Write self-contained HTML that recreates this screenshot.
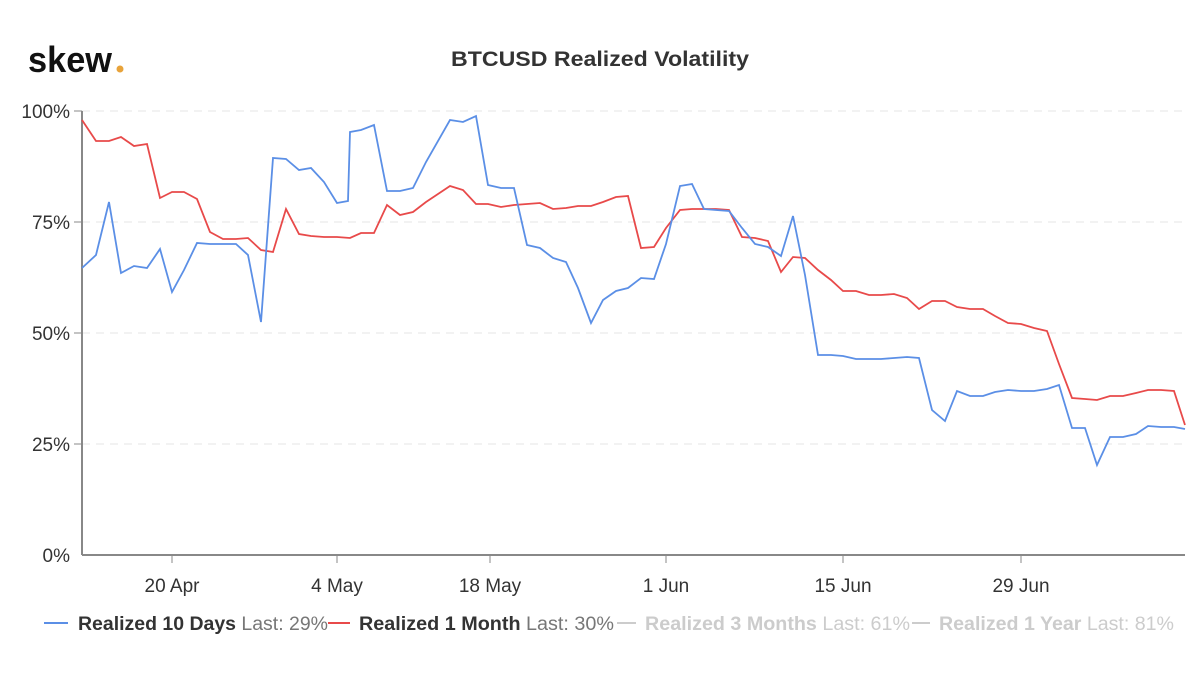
<!DOCTYPE html>
<html><head><meta charset="utf-8"><style>
body{margin:0;background:#fff;width:1200px;height:670px;overflow:hidden;font-family:"Liberation Sans",sans-serif}
</style></head><body>
<svg width="1200" height="670" xmlns="http://www.w3.org/2000/svg" font-family="Liberation Sans, sans-serif">
<text x="28" y="72" font-size="36" font-weight="bold" fill="#111" textLength="84" lengthAdjust="spacingAndGlyphs">skew</text>
<circle cx="120" cy="69" r="3.5" fill="#e8a33a"/>
<text x="600" y="66" text-anchor="middle" font-size="21" font-weight="bold" fill="#333" textLength="298" lengthAdjust="spacingAndGlyphs">BTCUSD Realized Volatility</text>
<g stroke="#e4e4e4" stroke-dasharray="8,6" stroke-width="1">
<line x1="82" y1="111" x2="1185" y2="111"/><line x1="82" y1="222" x2="1185" y2="222"/>
<line x1="82" y1="333" x2="1185" y2="333"/><line x1="82" y1="444" x2="1185" y2="444"/>
</g>
<line x1="82" y1="111" x2="82" y2="555" stroke="#888" stroke-width="2"/>
<line x1="82" y1="555" x2="1185" y2="555" stroke="#888" stroke-width="2"/>
<g stroke="#888"><line x1="74" y1="111" x2="82" y2="111"/><line x1="74" y1="222" x2="82" y2="222"/><line x1="74" y1="333" x2="82" y2="333"/><line x1="74" y1="444" x2="82" y2="444"/>
<line x1="172" y1="555" x2="172" y2="563"/><line x1="337" y1="555" x2="337" y2="563"/><line x1="490" y1="555" x2="490" y2="563"/><line x1="666" y1="555" x2="666" y2="563"/><line x1="843" y1="555" x2="843" y2="563"/><line x1="1021" y1="555" x2="1021" y2="563"/></g>
<g font-size="19" fill="#333" text-anchor="end">
<text x="70" y="118">100%</text><text x="70" y="229">75%</text><text x="70" y="340">50%</text><text x="70" y="451">25%</text><text x="70" y="562">0%</text></g>
<g font-size="19" fill="#333" text-anchor="middle">
<text x="172" y="592">20 Apr</text><text x="337" y="592">4 May</text><text x="490" y="592">18 May</text><text x="666" y="592">1 Jun</text><text x="843" y="592">15 Jun</text><text x="1021" y="592">29 Jun</text></g>
<polyline fill="none" stroke="#e84a4a" stroke-width="1.8" points="82,120 96,141 109,141 121,137 134,146 147,144 160,198 172,192 184,192 197,199 210,232 223,239 236,239 248,238 261,250 273,252 286,209 299,234 311,236 324,237 337,237 350,238 361,233 374,233 387,205 400,215 413,212 426,202 438,194 450,186 463,190 476,204 488,204 501,207 514,205 527,204 540,203 553,209 566,208 578,206 591,206 603,202 616,197 628,196 641,248 654,247 666,228 680,210 692,209 704,209 716,209 729,210 742,237 755,238 768,241 781,272 793,257 805,258 818,270 831,280 843,291 856,291 869,295 881,295 894,294 907,298 919,309 932,301 945,301 957,307 970,309 983,309 995,316 1008,323 1021,324 1034,328 1047,331 1059,364 1072,398 1085,399 1097,400 1110,396 1123,396 1136,393 1148,390 1161,390 1174,391 1185,425"/>
<polyline fill="none" stroke="#5b8fe6" stroke-width="1.8" points="82,268 96,255 109,202 121,273 134,266 147,268 160,249 172,292 184,270 197,243 210,244 223,244 236,244 248,255 261,322 273,158 286,159 299,170 311,168 324,182 337,203 348,201 350,132 361,130 374,125 387,191 400,191 413,188 426,162 450,120 463,122 476,116 488,185 501,188 514,188 527,245 540,248 553,258 566,262 578,288 591,323 603,300 616,291 628,288 641,278 654,279 666,244 680,186 692,184 704,209 716,210 729,211 742,228 755,244 768,247 781,256 793,216 805,275 818,355 831,355 843,356 856,359 869,359 881,359 894,358 907,357 919,358 932,410 945,421 957,391 970,396 983,396 995,392 1008,390 1021,391 1034,391 1047,389 1059,385 1072,428 1085,428 1097,465 1110,437 1123,437 1136,434 1148,426 1161,427 1174,427 1185,429"/>
<g font-size="19">
<line x1="44" y1="623" x2="68" y2="623" stroke="#5b8fe6" stroke-width="2"/>
<text x="78" y="630" fill="#333" textLength="250" lengthAdjust="spacingAndGlyphs"><tspan font-weight="bold">Realized 10 Days</tspan> <tspan fill="#777">Last: 29%</tspan></text>
<line x1="328" y1="623" x2="350" y2="623" stroke="#e84a4a" stroke-width="2"/>
<text x="359" y="630" fill="#333" textLength="255" lengthAdjust="spacingAndGlyphs"><tspan font-weight="bold">Realized 1 Month</tspan> <tspan fill="#777">Last: 30%</tspan></text>
<line x1="617" y1="623" x2="636" y2="623" stroke="#ccc" stroke-width="2"/>
<text x="645" y="630" fill="#ccc" textLength="265" lengthAdjust="spacingAndGlyphs"><tspan font-weight="bold">Realized 3 Months</tspan> Last: 61%</text>
<line x1="912" y1="623" x2="930" y2="623" stroke="#ccc" stroke-width="2"/>
<text x="939" y="630" fill="#ccc" textLength="235" lengthAdjust="spacingAndGlyphs"><tspan font-weight="bold">Realized 1 Year</tspan> Last: 81%</text>
</g>
</svg>
</body></html>
